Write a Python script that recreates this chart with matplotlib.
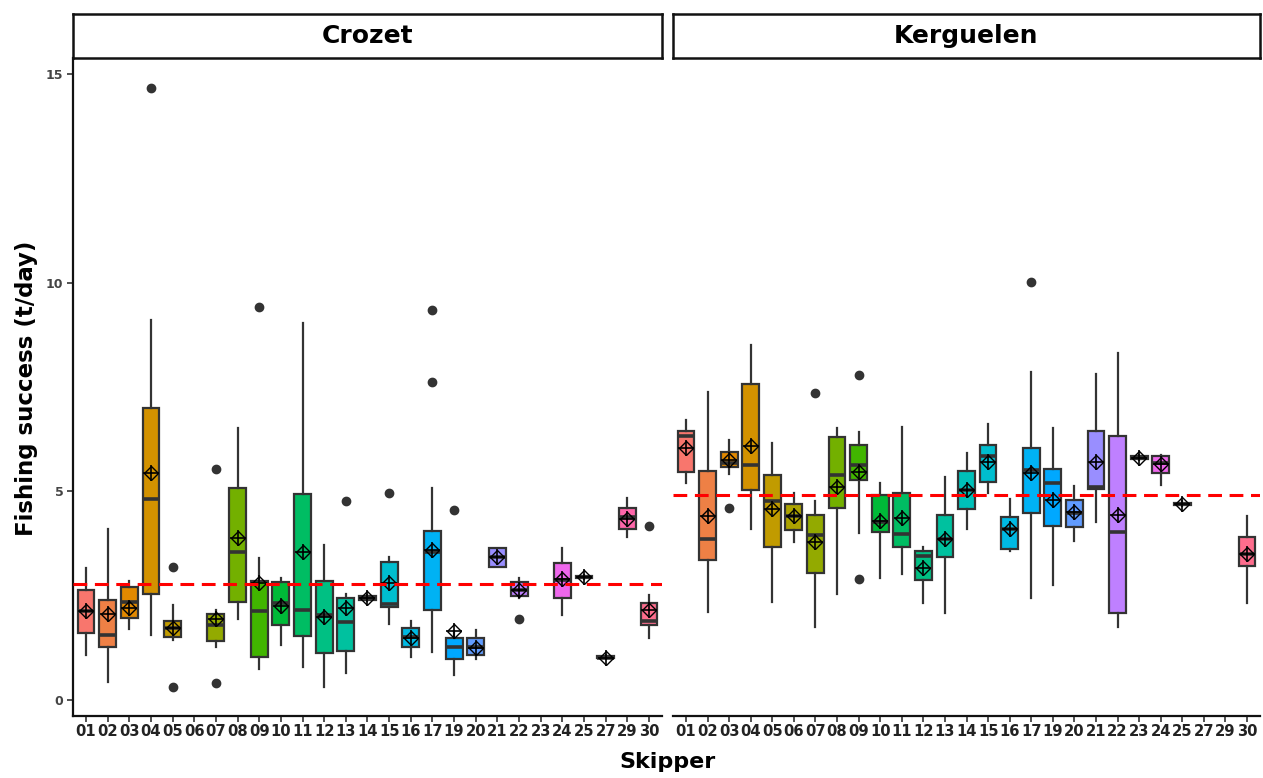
import numpy as np
import matplotlib
matplotlib.use("Agg")
import matplotlib.pyplot as plt

# ---------------- data ----------------
skippers = ['01', '02', '03', '04', '05', '06', '07', '08', '09', '10', '11', '12', '13',
            '14', '15', '16', '17', '19', '20', '21', '22', '23', '24', '25', '27', '29', '30']
regions = ['Crozet', 'Kerguelen']

crozet_lo = [1.08, 0.43, 1.70, 1.56, 1.45, None, 1.28, 1.94, 0.74, 1.32, 0.79, 0.31, 0.65, 2.38,
             1.82, 1.03, 1.15, 0.60, 0.98, 3.19, 2.45, None, 2.04, 2.90, 0.98, 3.91, 1.49]
crozet_q1 = [1.61, 1.28, 1.97, 2.54, 1.51, None, 1.42, 2.35, 1.03, 1.80, 1.53, 1.13, 1.18, 2.41,
             2.23, 1.28, 2.16, 0.98, 1.08, 3.19, 2.49, None, 2.45, 2.93, 1.00, 4.10, 1.80]
crozet_med = [2.13, 1.56, 2.35, 4.82, 1.72, None, 1.80, 3.55, 2.13, 2.33, 2.16, 2.04, 1.87, 2.45,
              2.30, 1.51, 3.55, 1.28, 1.28, 3.43, 2.64, None, 2.88, 2.95, 1.02, 4.39, 1.90]
crozet_q3 = [2.64, 2.40, 2.71, 7.00, 1.89, None, 2.06, 5.08, 2.85, 2.83, 4.94, 2.85, 2.45, 2.49,
             3.31, 1.73, 4.05, 1.49, 1.49, 3.64, 2.83, None, 3.28, 2.98, 1.05, 4.60, 2.33]
crozet_hi = [3.17, 4.10, 2.85, 9.11, 2.28, None, 2.16, 6.52, 3.41, 2.93, 9.04, 3.72, 2.55, 2.52,
             3.43, 1.89, 5.08, 1.65, 1.68, 3.64, 2.92, None, 3.64, 3.00, 1.07, 4.84, 2.52]
crozet_mean = [2.13, 2.06, 2.20, 5.44, 1.72, None, 1.94, 3.88, 2.80, 2.25, 3.55, 2.00, 2.20, 2.45,
               2.81, 1.50, 3.60, 1.65, 1.25, 3.43, 2.64, None, 2.90, 2.95, 1.02, 4.35, 2.16]
crozet_out = {'04': [14.65], '05': [3.19, 0.31], '07': [5.54, 0.41], '09': [9.42], '13': [4.77],
              '15': [4.97], '17': [7.62, 9.35], '19': [4.56], '22': [1.94], '30': [4.17]}
crozet_overall = 2.78

kerg_lo = [5.20, 2.11, 5.42, 4.10, 2.35, 3.79, 1.75, 2.54, 4.00, 2.93, 3.02, 2.33, 2.09, 4.10,
           4.96, 3.57, 2.45, 2.76, 3.81, 4.27, 1.75, 5.75, 5.16, 4.64, None, None, 2.33]
kerg_q1 = [5.47, 3.36, 5.59, 5.04, 3.67, 4.08, 3.05, 4.60, 5.28, 4.03, 3.67, 2.88, 3.43, 4.58,
           5.23, 3.62, 4.48, 4.17, 4.15, 5.06, 2.09, 5.77, 5.44, 4.67, None, None, 3.21]
kerg_med = [6.33, 3.86, 5.68, 5.64, 4.77, 4.41, 3.96, 5.40, 5.64, 4.27, 3.98, 3.45, 3.86, 5.04,
            5.85, 4.10, 5.52, 5.20, 4.48, 5.11, 4.03, 5.80, 5.68, 4.70, None, None, 3.50]
kerg_q3 = [6.45, 5.49, 5.95, 7.58, 5.40, 4.70, 4.44, 6.31, 6.12, 4.92, 4.96, 3.57, 4.44, 5.49,
           6.12, 4.39, 6.04, 5.54, 4.80, 6.45, 6.33, 5.84, 5.85, 4.73, None, None, 3.91]
kerg_hi = [6.71, 7.39, 6.23, 8.51, 6.16, 4.96, 4.77, 6.52, 6.43, 5.20, 6.55, 3.67, 5.35, 5.92,
           6.62, 4.82, 7.87, 6.52, 5.13, 7.82, 8.32, 5.87, 5.87, 4.76, None, None, 4.41]
kerg_mean = [6.04, 4.41, 5.75, 6.09, 4.58, 4.40, 3.79, 5.11, 5.47, 4.30, 4.36, 3.17, 3.86, 5.04,
             5.71, 4.10, 5.45, 4.80, 4.50, 5.71, 4.44, 5.80, 5.65, 4.70, None, None, 3.50]
kerg_out = {'03': [4.60], '07': [7.36], '09': [7.79, 2.90], '17': [10.02]}
kerg_overall = 4.91

yticks = [0, 5, 10, 15]


# ---------------- ggplot hue palette ----------------
def hcl(h, c=100.0, l=65.0):
    hr = np.deg2rad(h)
    U, V = c * np.cos(hr), c * np.sin(hr)
    Y = ((l + 16) / 116) ** 3 if l > 8 else l / 903.3
    Xn, Yn, Zn = 0.95047, 1.0, 1.08883
    den = Xn + 15 * Yn + 3 * Zn
    un, vn = 4 * Xn / den, 9 * Yn / den
    u = U / (13 * l) + un
    v = V / (13 * l) + vn
    X = 9 * Y * u / (4 * v)
    Z = Y * (12 - 3 * u - 20 * v) / (4 * v)
    M = np.array([[3.2404542, -1.5371385, -0.4985314],
                  [-0.9692660, 1.8760108, 0.0415560],
                  [0.0556434, -0.2040259, 1.0572252]])
    rgb = M @ np.array([X, Y, Z])
    out = np.where(rgb <= 0.0031308, 12.92 * rgb, 1.055 * np.clip(rgb, 0, None) ** (1 / 2.4) - 0.055)
    return tuple(np.clip(out, 0, 1))


n = len(skippers)
hues = np.linspace(15, 375, n + 1)[:n]
colors = [hcl(h) for h in hues]

# ---------------- figure ----------------
W, H = 1263, 778
fig = plt.figure(figsize=(W / 100, H / 100), dpi=100)
fig.patch.set_facecolor('white')

edge = '#333333'
panel_top, panel_bot = 58, 716
panels = [
    ('Crozet', 73, 662, crozet_lo, crozet_q1, crozet_med, crozet_q3, crozet_hi, crozet_mean,
     crozet_out, crozet_overall),
    ('Kerguelen', 673, 1260, kerg_lo, kerg_q1, kerg_med, kerg_q3, kerg_hi, kerg_mean,
     kerg_out, kerg_overall),
]

for k, (name, x0, x1, lo, q1, med, q3, hi, mean, outl, overall) in enumerate(panels):
    ax = fig.add_axes([x0 / W, (H - panel_bot) / H, (x1 - x0) / W, (panel_bot - panel_top) / H])
    stats, pos, cols = [], [], []
    for i, s in enumerate(skippers):
        if med[i] is None:
            continue
        stats.append(dict(med=med[i], q1=q1[i], q3=q3[i], whislo=lo[i], whishi=hi[i],
                          fliers=outl.get(s, []), mean=mean[i]))
        pos.append(i)
        cols.append(colors[i])
    bp = ax.bxp(stats, positions=pos, widths=0.78, patch_artist=True, showcaps=False,
                showfliers=True,
                boxprops=dict(edgecolor=edge, linewidth=1.6),
                medianprops=dict(color=edge, linewidth=2.6, solid_capstyle='butt'),
                whiskerprops=dict(color=edge, linewidth=1.6),
                flierprops=dict(marker='o', markerfacecolor=edge, markeredgecolor=edge,
                                markersize=6, linestyle='none'))
    for patch, c in zip(bp['boxes'], cols):
        patch.set_facecolor(c)
    mx = [p for p in pos]
    my = [mean[p] for p in pos]
    ax.plot(mx, my, linestyle='none', marker='D', markersize=7, markerfacecolor='none',
            markeredgecolor='black', markeredgewidth=1.0, zorder=5)
    ax.plot(mx, my, linestyle='none', marker='+', markersize=11, color='black',
            markeredgewidth=1.2, zorder=5)
    ax.axhline(overall, color='red', linestyle=(0, (4.5, 2.5)), linewidth=2.2, zorder=6)

    ax.set_xlim(-0.6, n - 1 + 0.6)
    ax.set_ylim(-0.38, 15.38)
    ax.set_xticks(range(n))
    ax.set_xticklabels(skippers, fontsize=10.6, fontweight='bold', color='#222222')
    ax.tick_params(axis='x', length=4, width=1.2, color='#333333', pad=2)
    for side in ['top', 'right']:
        ax.spines[side].set_visible(False)
    ax.spines['bottom'].set_linewidth(1.6)
    ax.spines['bottom'].set_color('#111111')
    if k == 0:
        ax.set_yticks(yticks)
        ax.set_yticklabels([str(v) for v in yticks], fontsize=9, fontweight='bold', color='#444444')
        ax.tick_params(axis='y', length=4, width=1.2, color='#333333', pad=3)
        ax.spines['left'].set_linewidth(1.6)
        ax.spines['left'].set_color('#111111')
    else:
        ax.spines['left'].set_visible(False)
        ax.set_yticks([])

    # strip
    sax = fig.add_axes([x0 / W, (H - 58) / H, (x1 - x0) / W, 44 / H])
    sax.set_xticks([])
    sax.set_yticks([])
    for sp in sax.spines.values():
        sp.set_linewidth(1.8)
        sp.set_color('#111111')
    sax.text(0.5, 0.5, name, transform=sax.transAxes, ha='center', va='center',
             fontsize=18, fontweight='bold', color='black')

fig.text(27 / W, 1 - 388 / H, 'Fishing success (t/day)', rotation=90, ha='center', va='center',
         fontsize=16.5, fontweight='bold')
fig.text(668 / W, 1 - 762 / H, 'Skipper', ha='center', va='center', fontsize=16, fontweight='bold')

fig.savefig('out.png', dpi=100)
